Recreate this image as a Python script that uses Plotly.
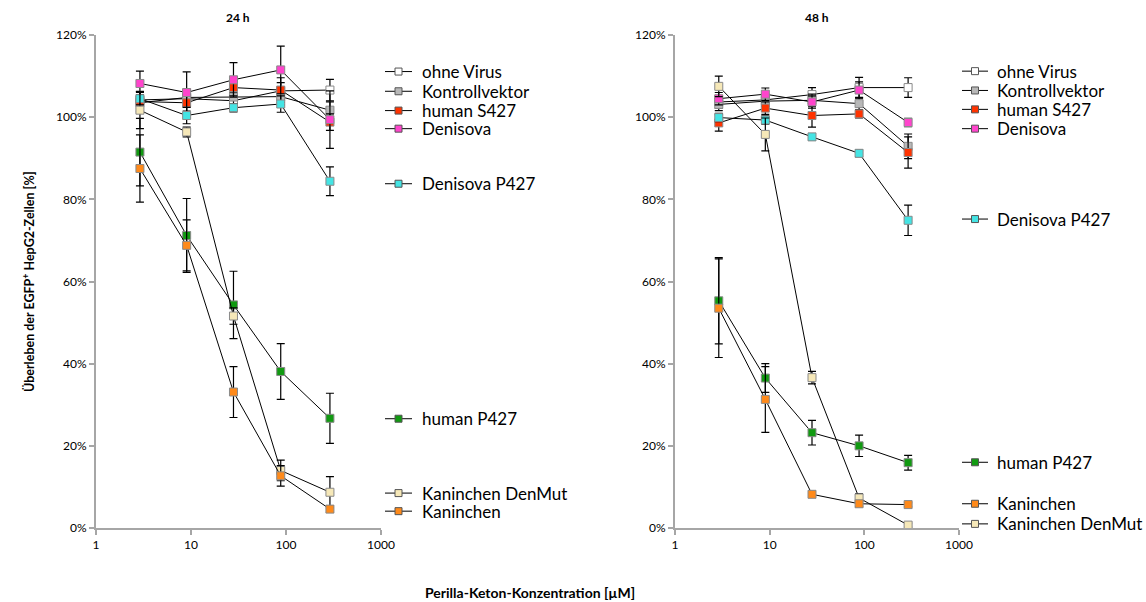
import plotly.graph_objects as go

# ---------------- data ----------------
conc = [2.9, 9, 28, 88, 290]

series_names = ["ohne Virus", "Kontrollvektor", "human S427", "Denisova",
                "Denisova P427", "human P427", "Kaninchen DenMut", "Kaninchen"]
series_colors = ["#ffffff", "#b8b8b8", "#ff3300", "#ff44cc",
                 "#44e4e4", "#119a11", "#f6e8b8", "#ff8a1a"]

# 24 h
v24_ohne = [104.2, 104.5, 104.0, 106.4, 106.6]
v24_kontroll = [103.5, 104.8, 104.9, 105.0, 101.7]
v24_hS427 = [103.8, 103.5, 107.2, 106.6, 98.8]
v24_deni = [108.2, 106.0, 109.1, 111.5, 99.4]
v24_deniP = [104.5, 100.4, 102.3, 103.2, 84.4]
v24_hP427 = [91.5, 71.2, 54.3, 38.1, 26.7]
v24_kanDM = [101.7, 96.4, 51.6, 14.0, 8.7]
v24_kan = [87.5, 68.8, 33.1, 12.7, 4.6]

e24_ohne = [2.0, 2.0, 2.0, 2.0, 2.6]
e24_kontroll = [2.0, 2.0, 2.0, 2.0, 2.0]
e24_hS427 = [2.5, 2.0, 2.0, 3.0, 2.0]
e24_deni = [3.0, 5.0, 4.2, 5.8, 7.0]
e24_deniP = [1.5, 2.0, 1.0, 2.0, 3.5]
e24_hP427 = [8.2, 9.0, 8.2, 6.8, 6.1]
e24_kanDM = [4.5, 1.2, 2.0, 2.5, 3.8]
e24_kan = [8.2, 6.2, 6.2, 2.5, 0.8]

# 48 h
v48_ohne = [103.7, 104.2, 105.5, 107.2, 107.2]
v48_kontroll = [103.1, 103.9, 104.1, 103.3, 92.9]
v48_hS427 = [98.6, 102.2, 100.4, 100.8, 91.4]
v48_deni = [104.5, 105.6, 103.7, 106.6, 98.7]
v48_deniP = [99.9, 99.3, 95.2, 91.2, 74.9]
v48_hP427 = [55.3, 36.5, 23.2, 20.0, 15.9]
v48_kanDM = [107.5, 95.8, 36.6, 7.3, 0.7]
v48_kan = [53.5, 31.3, 8.2, 5.9, 5.7]

e48_ohne = [1.5, 1.5, 1.7, 2.5, 2.4]
e48_kontroll = [1.5, 1.2, 1.5, 1.5, 3.0]
e48_hS427 = [2.0, 1.5, 2.8, 1.0, 3.8]
e48_deni = [1.5, 1.5, 1.5, 2.0, 1.0]
e48_deniP = [1.0, 1.0, 0.8, 0.8, 3.7]
e48_hP427 = [10.5, 3.5, 3.0, 2.6, 1.8]
e48_kanDM = [2.5, 4.0, 1.5, 1.0, 0.5]
e48_kan = [12.0, 8.0, 0.7, 0.7, 0.5]

vals24 = [v24_ohne, v24_kontroll, v24_hS427, v24_deni, v24_deniP, v24_hP427, v24_kanDM, v24_kan]
errs24 = [e24_ohne, e24_kontroll, e24_hS427, e24_deni, e24_deniP, e24_hP427, e24_kanDM, e24_kan]
vals48 = [v48_ohne, v48_kontroll, v48_hS427, v48_deni, v48_deniP, v48_hP427, v48_kanDM, v48_kan]
errs48 = [e48_ohne, e48_kontroll, e48_hS427, e48_deni, e48_deniP, e48_hP427, e48_kanDM, e48_kan]

# label placement (in % units of each panel) for the right-hand labels
label_y24 = [111.1, 106.3, 101.6, 97.2, 83.8, 26.6, 8.5, 4.1]
label_y48 = [111.2, 106.5, 101.9, 97.2, 75.2, 16.0, 1.0, 5.9]

x_ticks = [1, 10, 100, 1000]
x_ticktext = ["1", "10", "100", "1000"]
y_ticks = [0, 20, 40, 60, 80, 100, 120]
y_ticktext = ["0%", "20%", "40%", "60%", "80%", "100%", "120%"]

FONT = "Lato, 'Open Sans', sans-serif"
AX_GREY = "#a6a6a6"

fig = go.Figure()

def add_panel(vals, errs, xa, ya):
    for name, color, v, e in zip(series_names, series_colors, vals, errs):
        fig.add_trace(go.Scatter(
            x=conc, y=v, mode="lines+markers", name=name, showlegend=False,
            xaxis=xa, yaxis=ya,
            line=dict(color="black", width=1),
            marker=dict(symbol="square", size=8, color=color,
                        line=dict(color="#8a8a8a", width=1)),
            error_y=dict(type="data", array=e, visible=True, color="black",
                         thickness=1.2, width=4),
        ))

add_panel(vals24, errs24, "x", "y")
add_panel(vals48, errs48, "x2", "y2")

# label keys drawn on a helper pixel-scaled x axis
def add_keys(label_y, ya, x0, x1, xt):
    for name, color, ly in zip(series_names, series_colors, label_y):
        fig.add_trace(go.Scatter(
            x=[x0, x1], y=[ly, ly], mode="lines",
            xaxis="x3", yaxis=ya, showlegend=False, hoverinfo="skip",
            line=dict(color="black", width=1)))
        fig.add_trace(go.Scatter(
            x=[(x0 + x1) / 2], y=[ly], mode="markers",
            xaxis="x3", yaxis=ya, showlegend=False, hoverinfo="skip",
            marker=dict(symbol="square", size=7, color=color,
                        line=dict(color="#555555", width=1))))
        fig.add_annotation(x=xt, y=ly, xref="x3", yref=ya, text=name,
                           showarrow=False, xanchor="left", yanchor="middle",
                           font=dict(family=FONT, size=17, color="black"))

add_keys(label_y24, "y", 385, 412, 420)
add_keys(label_y48, "y2", 962, 988, 995)

W, H = 1146, 602
L, R, T, B = 96, 0, 35, 74
pw = W - L - R
ph = H - T - B

def dom(px0, px1):
    return [(px0 - L) / pw, (px1 - L) / pw]

xcommon = dict(type="log", range=[0, 3], tickvals=x_ticks, ticktext=x_ticktext,
               showline=True, linecolor=AX_GREY, linewidth=2, ticks="outside",
               tickcolor=AX_GREY, ticklen=5, tickwidth=1.5, showgrid=False, zeroline=False,
               tickfont=dict(family=FONT, size=12, color="black"))
ycommon = dict(range=[0, 120], tickvals=y_ticks, ticktext=y_ticktext,
               showline=True, linecolor=AX_GREY, linewidth=2, ticks="outside",
               tickcolor=AX_GREY, ticklen=5, tickwidth=1.5, showgrid=False, zeroline=False,
               tickfont=dict(family=FONT, size=12, color="black"), domain=[0, 1])

fig.update_layout(
    width=W, height=H, template="none",
    paper_bgcolor="white", plot_bgcolor="rgba(0,0,0,0)",
    margin=dict(l=L, r=R, t=T, b=B),
    font=dict(family=FONT, color="black"),
    showlegend=False,
    xaxis=dict(domain=dom(96, 381), anchor="y", **xcommon),
    yaxis=dict(anchor="x", **ycommon),
    xaxis2=dict(domain=dom(675, 959), anchor="y2", **xcommon),
    yaxis2=dict(anchor="x2", **ycommon),
    xaxis3=dict(domain=[0, 1], range=[L, W - R], anchor="y", visible=False,
                showgrid=False, zeroline=False),
)

title_y = 1 + (T - 18) / ph
fig.add_annotation(x=238, y=title_y, xref="x3", yref="paper", text="<b>24 h</b>",
                   showarrow=False, yanchor="middle", font=dict(family=FONT, size=12))
fig.add_annotation(x=817, y=title_y, xref="x3", yref="paper", text="<b>48 h</b>",
                   showarrow=False, yanchor="middle", font=dict(family=FONT, size=12))

fig.add_annotation(x=0, y=0.5, xref="paper", yref="paper",
                   text="<b>Überleben der EGFP<sup>+</sup> HepG2-Zellen [%]</b>",
                   showarrow=False, textangle=-90, xshift=-78,
                   font=dict(family=FONT, size=12.5))
fig.add_annotation(x=530, y=-(592 - 528) / ph, xref="x3", yref="paper",
                   text="<b>Perilla-Keton-Konzentration [µM]</b>",
                   showarrow=False, yanchor="middle",
                   font=dict(family=FONT, size=14))

fig.write_html("out.html", config={"displayModeBar": False},
               post_script="document.body.style.margin='0px';")
